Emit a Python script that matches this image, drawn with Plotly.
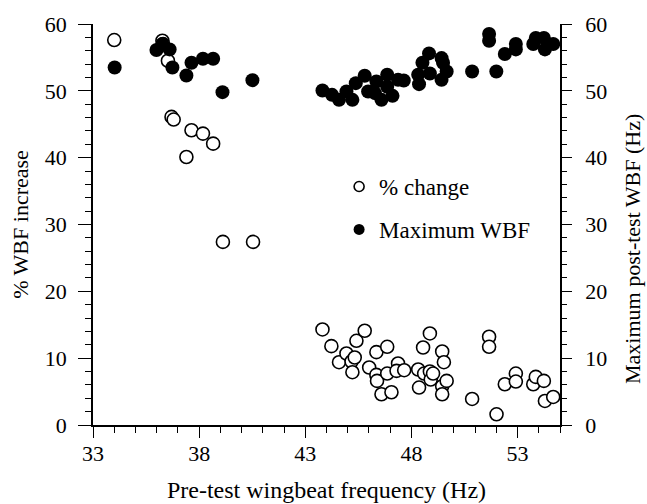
import plotly.graph_objects as go

# Pre-test wingbeat frequency (Hz) and % WBF increase
pct_x = [34.0, 36.27, 36.3, 36.53, 36.7, 36.8, 37.64, 38.18, 38.66, 37.4, 39.12, 40.54,
         43.81, 44.23, 44.59, 44.94, 45.18, 45.33, 45.22, 45.41, 45.8, 46.01, 46.35, 46.35,
         46.38, 46.59, 46.86, 46.86, 47.06, 47.37, 47.3, 47.66, 48.32, 48.36, 48.55, 48.6,
         48.87, 48.87, 48.91, 49.02, 49.45, 49.53, 49.45, 49.45, 49.66, 50.86, 51.66, 51.66,
         52.01, 52.4, 52.92, 52.92, 53.74, 53.86, 54.24, 54.29, 54.68]
pct_y = [57.6, 57.5, 57.0, 54.5, 46.1, 45.7, 44.1, 43.6, 42.1, 40.1, 27.4, 27.4,
         14.3, 11.8, 9.4, 10.7, 9.5, 10.1, 7.9, 12.6, 14.1, 8.6, 10.9, 7.5,
         6.6, 4.6, 11.7, 7.7, 4.9, 9.2, 8.1, 8.2, 8.3, 5.6, 11.6, 7.7,
         13.7, 8.0, 6.8, 7.7, 11.0, 9.4, 5.8, 4.6, 6.6, 3.9, 13.2, 11.7,
         1.6, 6.1, 7.7, 6.5, 6.1, 7.2, 6.6, 3.6, 4.2]

# Pre-test wingbeat frequency (Hz) and maximum post-test WBF (Hz)
max_x = [34.02, 35.99, 36.27, 36.61, 36.74, 37.4, 37.64, 38.18, 38.66, 39.1, 40.51,
         43.81, 44.26, 44.59, 44.94, 45.22, 45.38, 45.8, 45.96, 46.35, 46.28, 46.59,
         46.86, 46.86, 47.11, 47.37, 47.64, 48.32, 48.36, 48.52, 48.83, 48.87, 49.42,
         49.49, 49.42, 49.66, 50.86, 51.66, 51.66, 52.0, 52.4, 52.92, 52.92, 53.74,
         53.86, 54.24, 54.29, 54.68]
max_y = [53.5, 56.1, 57.0, 56.2, 53.5, 52.3, 54.2, 54.8, 54.8, 49.8, 51.6,
         50.05, 49.4, 48.65, 49.9, 48.65, 51.15, 52.25, 49.9, 51.4, 49.65, 48.65,
         52.4, 50.6, 49.25, 51.65, 51.55, 52.4, 51.0, 54.2, 55.6, 52.6, 54.9,
         54.2, 51.65, 52.9, 52.9, 58.5, 57.5, 52.9, 55.5, 57.0, 56.2, 57.0,
         57.9, 57.9, 56.2, 57.0]

x_ticks = [33, 38, 43, 48, 53]
y_ticks = [0, 10, 20, 30, 40, 50, 60]

FONT = "Liberation Serif"
FS = 22

fig = go.Figure()

fig.add_trace(go.Scatter(
    x=pct_x, y=pct_y, mode="markers", showlegend=False,
    marker=dict(symbol="circle", size=13, color="white",
                line=dict(color="black", width=1.6)),
    yaxis="y"))
fig.add_trace(go.Scatter(
    x=max_x, y=max_y, mode="markers", showlegend=False,
    marker=dict(symbol="circle", size=14, color="black",
                line=dict(color="black", width=0)),
    yaxis="y2"))

# legend entries with smaller symbols
fig.add_trace(go.Scatter(
    x=[None], y=[None], mode="markers", name="% change", legendgroup="a",
    marker=dict(symbol="circle", size=10, color="white",
                line=dict(color="black", width=1.6))))
fig.add_trace(go.Scatter(
    x=[None], y=[None], mode="markers", name="Maximum WBF", legendgroup="b",
    marker=dict(symbol="circle", size=11, color="black")))

fig.update_layout(
    width=647, height=504,
    margin=dict(l=93, r=87, t=24, b=79),
    plot_bgcolor="white", paper_bgcolor="white",
    font=dict(family=FONT, size=FS, color="black"),
    legend=dict(x=0.527, y=0.541, xanchor="left", yanchor="middle",
                bgcolor="rgba(0,0,0,0)", tracegroupgap=10,
                font=dict(size=23, family=FONT), itemwidth=30),
    xaxis=dict(
        range=[33, 55], tickvals=x_ticks, ticks="outside", ticklen=11,
        tickwidth=1.2, tickcolor="black", showline=True, linecolor="black",
        linewidth=1.5, showgrid=False, zeroline=False, ticklabelstandoff=-3,
        automargin=False,
        minor=dict(dtick=1, tick0=33, ticks="outside", ticklen=6, tickwidth=1.2,
                   tickcolor="black", showgrid=False),
        title=dict(text="Pre-test wingbeat frequency (Hz)", standoff=16,
                   font=dict(size=24))),
    yaxis=dict(
        range=[0, 60], tickvals=y_ticks, ticks="outside", ticklen=13,
        tickwidth=1.2, tickcolor="black", showline=True, linecolor="black",
        linewidth=1.5, showgrid=False, zeroline=False, ticklabelstandoff=7,
        automargin=False,
        minor=dict(dtick=2, tick0=0, ticks="outside", ticklen=6, tickwidth=1.2,
                   tickcolor="black", showgrid=False),
        title=dict(text="% WBF increase", standoff=10, font=dict(size=FS))),
    yaxis2=dict(
        range=[0, 60], tickvals=y_ticks, ticks="outside", ticklen=10,
        tickwidth=1.2, tickcolor="black", showline=True, linecolor="black",
        linewidth=1.5, showgrid=False, zeroline=False, ticklabelstandoff=9,
        automargin=False, overlaying="y", side="right",
        minor=dict(dtick=2, tick0=0, ticks="outside", ticklen=5, tickwidth=1.2,
                   tickcolor="black", showgrid=False)),
    annotations=[dict(
        text="Maximum post-test WBF (Hz)", xref="paper", yref="paper",
        x=1, y=0.439, xshift=73, xanchor="center", yanchor="middle",
        textangle=-90, showarrow=False, font=dict(size=FS, family=FONT))],
)

fig.write_html("out.html")
